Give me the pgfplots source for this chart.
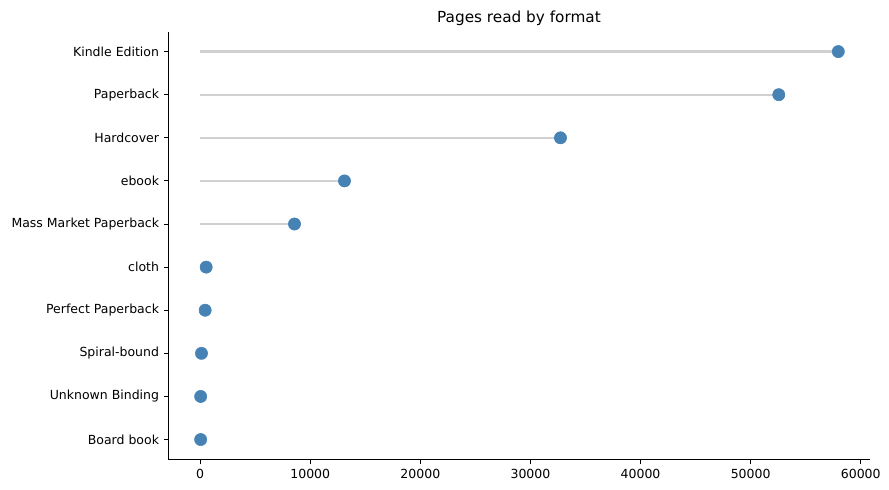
\documentclass[border=0pt]{standalone}
\usepackage{fontspec}
\setmainfont{DejaVu Sans}
\usepackage{pgfplots}
\usepackage{pgfplotstable}
\pgfplotsset{compat=1.18}
\definecolor{steel}{HTML}{4682B4}
\definecolor{stem}{HTML}{D0D0D0}
\pgfplotstableread{
y x
0 44
1 44
2 118
3 454
4 545
5 8565
6 13106
7 32725
8 52552
9 57960
}\pagesdata
\begin{document}
\begin{tikzpicture}[x=0.72pt,y=0.72pt]
\path[use as bounding box] (0,0) rectangle (889,490);
\begin{axis}[
  at={(153.3,70.5)}, anchor=south west,
  scale only axis, width=505pt, height=308.2pt,
  xmin=-2852, xmax=60854, ymin=-0.465, ymax=9.465,
  axis x line*=bottom, axis y line*=left,
  axis line style={-, line width=0.6pt},
  tick align=outside, major tick length=3.5pt,
  tick style={black, line width=0.6pt},
  xtick={0,10000,20000,30000,40000,50000,60000},
  scaled x ticks=false,
  /pgf/number format/1000 sep={},
  /pgf/number format/assume math mode=true,
  ytick={0,...,9},
  yticklabels={Board book,Unknown Binding,Spiral-bound,Perfect Paperback,cloth,Mass Market Paperback,ebook,Hardcover,Paperback,Kindle Edition},
  tick label style={font=\fontsize{9}{10}\selectfont},
  clip=false,
]
\addplot[xcomb, draw=stem, line width=1.6pt] table[x=x,y=y] {\pagesdata};
\addplot[only marks, mark=*, mark size=4.4pt, mark options={fill=steel, draw=steel}] table[x=x,y=y] {\pagesdata};
\end{axis}
\node[font=\fontsize{11}{13}\selectfont] at (519,472) {Pages read by format};
\end{tikzpicture}
\end{document}
